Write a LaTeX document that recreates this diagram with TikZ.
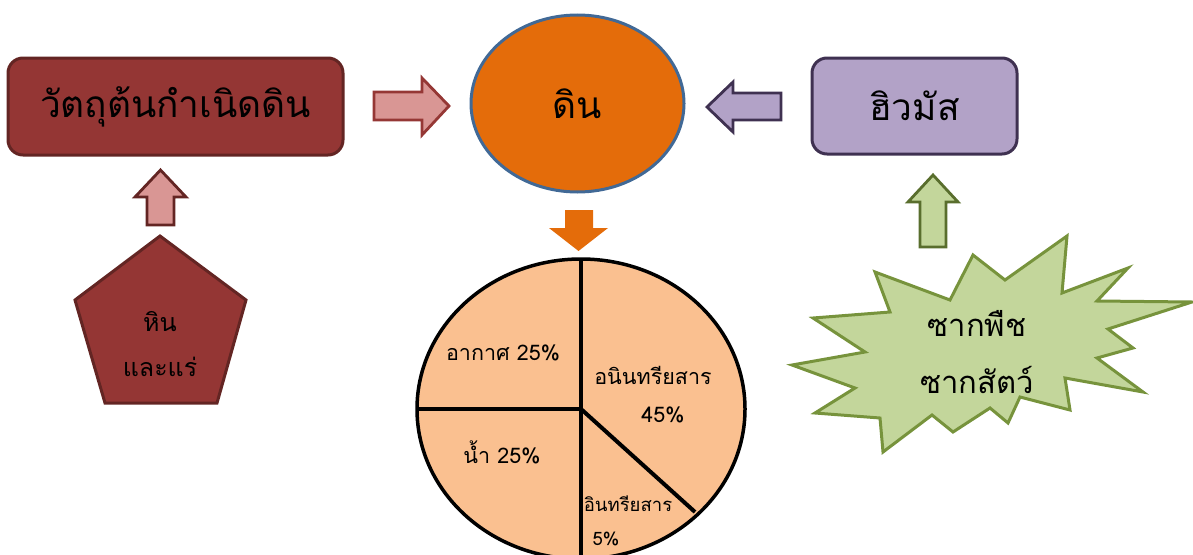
\documentclass[tikz,border=0pt]{standalone}
\usepackage{fontspec}
\newfontfamily\thaifont[Script=Thai]{Loma}
\usetikzlibrary{shapes.geometric}
\definecolor{boxred}{RGB}{148,54,52}
\definecolor{boxredline}{RGB}{99,37,35}
\definecolor{pinkfill}{RGB}{217,150,148}
\definecolor{pinkline}{RGB}{149,55,53}
\definecolor{soilfill}{RGB}{228,108,10}
\definecolor{soilline}{RGB}{65,105,150}
\definecolor{purplefill}{RGB}{178,162,199}
\definecolor{purpleline}{RGB}{63,49,81}
\definecolor{greenfill}{RGB}{195,214,155}
\definecolor{greenline}{RGB}{119,147,60}
\definecolor{piefill}{RGB}{250,192,144}
\begin{document}
\begin{tikzpicture}[x=1pt,y=-1pt,
  bigtext/.style={font=\thaifont\fontsize{37}{40}\selectfont},
  midtext/.style={font=\thaifont\fontsize{25}{28}\selectfont, align=center},
  pietext/.style={font=\thaifont\fontsize{21.5}{24}\selectfont},
  smallpietext/.style={font=\thaifont\fontsize{18.5}{22}\selectfont, inner sep=1pt},
  box/.style={rounded corners=15pt, line width=3pt, inner sep=0pt, bigtext},
  blockarrow/.style={line width=2.8pt, line join=miter},
]
\useasboundingbox (0,0) rectangle (1193,554);
\clip (0,0) rectangle (1193,554);

% main boxes
\node[box, draw=boxredline, fill=boxred, minimum width=335pt, minimum height=97pt] (parent) at (175.5,106.5) {วัตถุต้นกำเนิดดิน};
\node[ellipse, draw=soilline, fill=soilfill, line width=3pt, minimum width=213pt, minimum height=177pt, inner sep=0pt, bigtext] (soil) at (577.5,103.5) {ดิน};
\node[box, draw=purpleline, fill=purplefill, minimum width=205pt, minimum height=96pt] (humus) at (914.5,106) {ฮิวมัส};

% block arrows
\draw[blockarrow, draw=pinkline, fill=pinkfill] (374,92) -- (422,92) -- (422,78) -- (449,106) -- (422,135) -- (422,120) -- (374,120) -- cycle;
\draw[blockarrow, draw=purpleline, fill=purplefill] (781,93) -- (733,93) -- (733,82) -- (707,107) -- (733,132) -- (733,120) -- (781,120) -- cycle;
\draw[blockarrow, draw=boxredline, fill=pinkfill] (147,225) -- (147,197) -- (135,197) -- (160.5,170) -- (186,197) -- (174,197) -- (174,225) -- cycle;
\draw[blockarrow, draw=greenline!75!black, fill=greenfill] (920,247) -- (920,202) -- (908,202) -- (933,175) -- (958,202) -- (946,202) -- (946,247) -- cycle;
\fill[soilfill] (565,210) -- (593,210) -- (593,228) -- (608,228) -- (578.5,251) -- (549,228) -- (565,228) -- cycle;

% pentagon
\draw[line width=3pt, draw=boxredline, fill=boxred, line join=miter] (160,236) -- (246,300) -- (217,403) -- (105,403) -- (75,300) -- cycle;
\node[midtext] (rock1) at (160,322) {หิน};
\node[midtext] (rock2) at (160,367) {และแร่};

% burst
\draw[line width=3pt, draw=greenline, fill=greenfill, line join=miter]
 (875,272) -- (950,300) -- (973,255) -- (1005,280) -- (1067,236) -- (1062,293) -- (1128,268) -- (1097,301) -- (1192,302) -- (1108,329) -- (1133,348) -- (1097,358) -- (1143,392) -- (1065,378) -- (1070,410) -- (1020,397) -- (1008,423) -- (990,408) -- (953,432) -- (932,415) -- (883,452) -- (880,418) -- (815,413) -- (855,388) -- (792,365) -- (865,352) -- (813,318) -- (890,312) -- cycle;
\node[font=\thaifont\fontsize{31}{34}\selectfont] (plant) at (977,323) {ซากพืช};
\node[font=\thaifont\fontsize{31}{34}\selectfont] (animal) at (977,380) {ซากสัตว์};

% pie
\coordinate (pc) at (581,409);
\draw[line width=3.5pt, fill=piefill] (pc) ellipse [x radius=164, y radius=150];
\draw[line width=4pt] (581,259) -- (581,560);
\draw[line width=4pt] (417,409) -- (pc);
\draw[line width=4pt] (pc) -- (695,512);
\node[pietext] (air) at (503,353) {อากาศ 25\%};
\node[pietext] (water) at (502,452) {น้ำ 25\%};
\node[pietext] (inorg) at (653,375) {อนินทรียสาร};
\node[pietext] (inorgp) at (663,415) {45\%};
\node[smallpietext] (org) at (628,504) {อินทรียสาร};
\node[smallpietext] (orgp) at (606,539) {5\%};
\end{tikzpicture}
\end{document}
